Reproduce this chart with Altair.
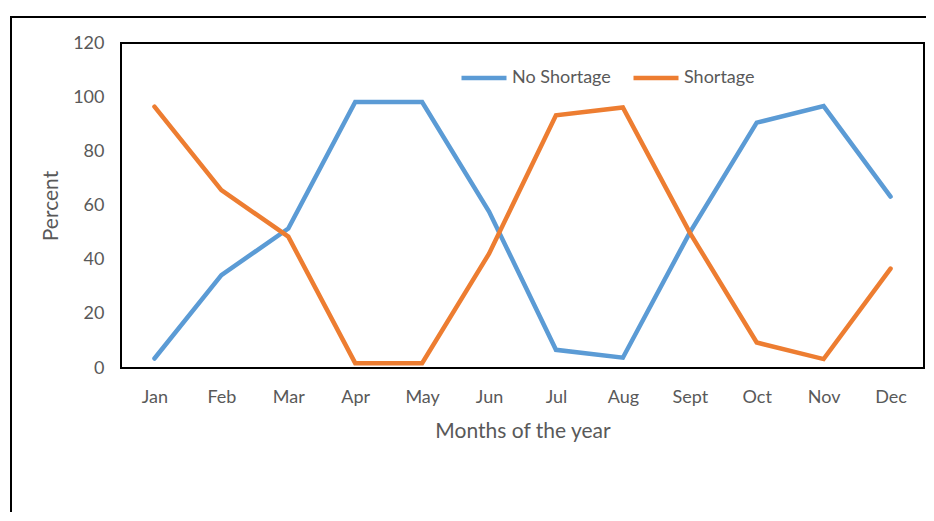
import altair as alt
import pandas as pd

months = ["Jan", "Feb", "Mar", "Apr", "May", "Jun", "Jul", "Aug", "Sept", "Oct", "Nov", "Dec"]
no_shortage = [3.5, 34.3, 51.5, 98.2, 98.2, 57.8, 6.7, 3.8, 50.0, 90.6, 96.7, 63.3]
shortage = [96.5, 65.7, 48.5, 1.8, 1.8, 42.2, 93.3, 96.2, 50.0, 9.4, 3.3, 36.7]
series = ["No Shortage", "Shortage"]
colors = ["#5B9BD5", "#ED7D31"]
y_ticks = [0, 20, 40, 60, 80, 100, 120]

rows = []
for i, m in enumerate(months):
    rows.append({"Month": m, "Series": series[0], "Percent": no_shortage[i], "order": i})
    rows.append({"Month": m, "Series": series[1], "Percent": shortage[i], "order": i})
df = pd.DataFrame(rows)

FONT = "Lato"
GREY = "#595959"

lines = alt.Chart(df).mark_line(strokeWidth=4.5, strokeCap="round").encode(
    x=alt.X("Month:N", sort=months,
            scale=alt.Scale(type="point", domain=months, padding=0.5),
            axis=alt.Axis(title="Months of the year", labelAngle=0, ticks=False, domain=False,
                          grid=False, labelPadding=20, titlePadding=14,
                          labelFontSize=18, titleFontSize=21, labelColor=GREY,
                          titleColor=GREY, labelFont=FONT, titleFont=FONT,
                          titleFontWeight="normal")),
    y=alt.Y("Percent:Q", scale=alt.Scale(domain=[0, 120], nice=False),
            axis=alt.Axis(title="Percent", values=y_ticks, ticks=False, domain=False,
                          grid=False, labelPadding=17, titlePadding=11,
                          labelFontSize=18, titleFontSize=21, labelColor=GREY,
                          titleColor=GREY, labelFont=FONT, titleFont=FONT,
                          titleFontWeight="normal")),
    color=alt.Color("Series:N", scale=alt.Scale(domain=series, range=colors),
                    legend=alt.Legend(title=None, orient="none", direction="horizontal",
                                      legendX=338, legendY=10, symbolType="stroke",
                                      symbolSize=2025, symbolStrokeWidth=4.5,
                                      labelFontSize=18, labelFont=FONT, labelColor=GREY,
                                      labelOffset=3, columnPadding=13)),
    order="order:Q",
)

frame = alt.Chart(pd.DataFrame({"a": [0]})).mark_rect(
    fill=None, stroke="black", strokeWidth=2
).encode(
    x=alt.value(-110), x2=alt.value(840), y=alt.value(-26), y2=alt.value(500)
)

chart = alt.layer(frame, lines).properties(
    width=803, height=325,
    autosize=alt.AutoSizeParams(type="none"),
    padding={"left": 113, "top": 35, "right": 2, "bottom": 144},
    background="white",
).configure_view(stroke="black", strokeWidth=2)

chart.save("out.html", embed_options={"renderer": "svg", "actions": False})
